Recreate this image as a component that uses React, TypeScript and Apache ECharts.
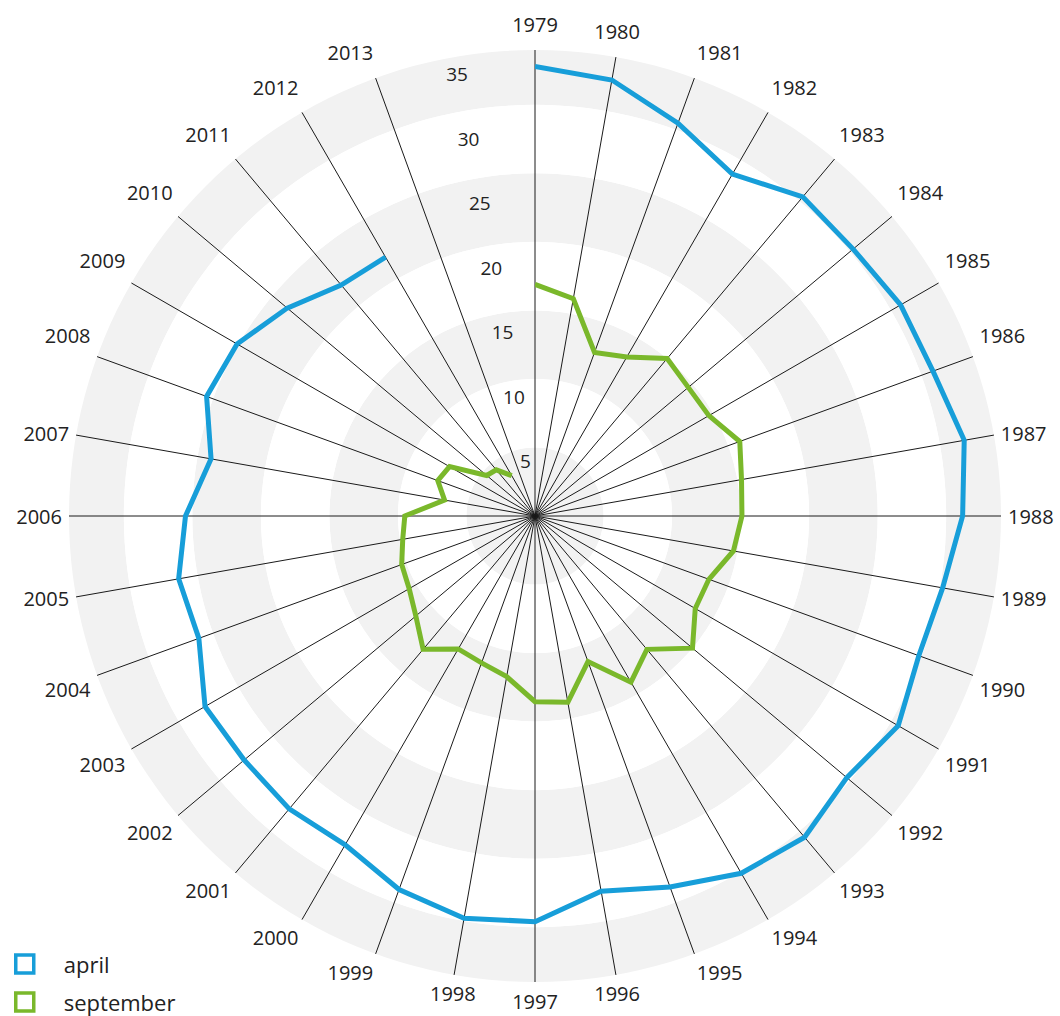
import React, { useEffect, useRef } from "react";
import * as echarts from "echarts";

// Angular categories (36 slots; the last slot is empty, no spoke)
const YEARS = [
  "1979", "1980", "1981", "1982", "1983", "1984", "1985", "1986", "1987",
  "1988", "1989", "1990", "1991", "1992", "1993", "1994", "1995", "1996",
  "1997", "1998", "1999", "2000", "2001", "2002", "2003", "2004", "2005",
  "2006", "2007", "2008", "2009", "2010", "2011", "2012", "2013", "",
];

// Values 1979–2012
const APRIL = [
  32.8, 32.3, 30.5, 28.8, 30.4, 30.3, 30.8, 30.9, 31.8, 31.2,
  30.2, 29.8, 30.6, 29.7, 30.6, 30.1, 28.8, 27.8, 29.6, 29.8,
  29.0, 27.7, 27.9, 27.7, 27.8, 26.1, 26.4, 25.5, 24.0, 25.5,
  25.1, 23.6, 22.0, 21.8,
];
const SEPTEMBER = [
  16.9, 16.1, 12.7, 13.4, 15.0, 14.6, 14.65, 15.9, 15.3, 15.1,
  14.7, 13.5, 13.5, 15.0, 12.7, 14.0, 11.3, 13.8, 13.55, 11.9,
  11.4, 11.2, 12.7, 11.35, 10.6, 10.35, 9.8, 9.5, 6.7, 7.55,
  7.2, 4.6, 4.4, 3.4,
];

const SERIES_NAMES = ["april", "september"];
const BLUE = "#179ed9";
const GREEN = "#7ab82b";
const TEXT = "#222222";
const FONT = "'Open Sans', sans-serif";

export default function App() {
  const ref = useRef<HTMLDivElement>(null);

  useEffect(() => {
    if (!ref.current) return;
    const chart = echarts.init(ref.current, null, { renderer: "svg" });
    const spokeColors = YEARS.map((y) => (y === "" ? "rgba(0,0,0,0)" : "#1a1a1a"));

    chart.setOption({
      animation: false,
      backgroundColor: "#ffffff",
      textStyle: { fontFamily: FONT },
      polar: [
        { center: [535, 516], radius: 466 },
        { center: [535, 516], radius: 448.5 },
      ],
      angleAxis: [
        {
          polarIndex: 0,
          type: "category",
          data: YEARS,
          boundaryGap: false,
          startAngle: 90,
          clockwise: true,
          axisLine: { show: false },
          axisTick: { show: false, interval: (i: number, v: string) => v !== "" },
          splitLine: { show: true, lineStyle: { color: spokeColors, width: 1 } },
          axisLabel: {
            interval: 0,
            margin: 7,
            fontSize: 20,
            color: TEXT,
            fontFamily: FONT,
            padding: [2, 0, 9, 0],
          },
        },
        {
          polarIndex: 1,
          type: "value",
          min: 0,
          max: 360,
          startAngle: 100,
          clockwise: true,
          show: false,
        },
      ],
      radiusAxis: [
        {
          polarIndex: 0,
          type: "value",
          min: 0,
          max: 34,
          interval: 5,
          axisLine: { show: false },
          axisTick: { show: false },
          axisLabel: { show: false },
          splitLine: { show: false },
          splitArea: { show: true, areaStyle: { color: ["#f2f2f2", "#ffffff"] } },
        },
        {
          polarIndex: 1,
          type: "value",
          min: 0.76,
          max: 35,
          splitNumber: 7,
          axisLine: { show: false },
          axisTick: { show: false },
          splitLine: { show: false },
          splitArea: { show: false },
          axisLabel: {
            show: true,
            showMinLabel: false,
            margin: 0,
            align: "center",
            verticalAlign: "middle",
            fontSize: 19,
            color: TEXT,
            fontFamily: FONT,
          },
        },
      ],
      legend: {
        orient: "vertical",
        left: 14,
        top: 953,
        padding: 0,
        itemWidth: 18,
        itemHeight: 18,
        itemGap: 16,
        icon: "rect",
        textStyle: { fontSize: 22, color: TEXT, fontFamily: FONT, padding: [0, 0, 0, 25] },
        data: [
          {
            name: SERIES_NAMES[0],
            icon: "rect",
            itemStyle: { color: "rgba(0,0,0,0)", borderColor: BLUE, borderWidth: 3.5 },
          },
          {
            name: SERIES_NAMES[1],
            icon: "rect",
            itemStyle: { color: "rgba(0,0,0,0)", borderColor: GREEN, borderWidth: 3.5 },
          },
        ],
      },
      series: [
        {
          name: SERIES_NAMES[0],
          type: "line",
          coordinateSystem: "polar",
          polarIndex: 0,
          data: APRIL,
          symbol: "none",
          showSymbol: false,
          lineStyle: { color: BLUE, width: 5, join: "miter" },
          itemStyle: { color: BLUE },
          z: 3,
        },
        {
          name: SERIES_NAMES[1],
          type: "line",
          coordinateSystem: "polar",
          polarIndex: 0,
          data: SEPTEMBER,
          symbol: "none",
          showSymbol: false,
          lineStyle: { color: GREEN, width: 5, join: "miter" },
          itemStyle: { color: GREEN },
          z: 3,
        },
      ],
    });

    return () => chart.dispose();
  }, []);

  return (
    <div
      ref={ref}
      style={{ position: "absolute", left: 0, top: 0, width: 1060, height: 1016 }}
    />
  );
}
